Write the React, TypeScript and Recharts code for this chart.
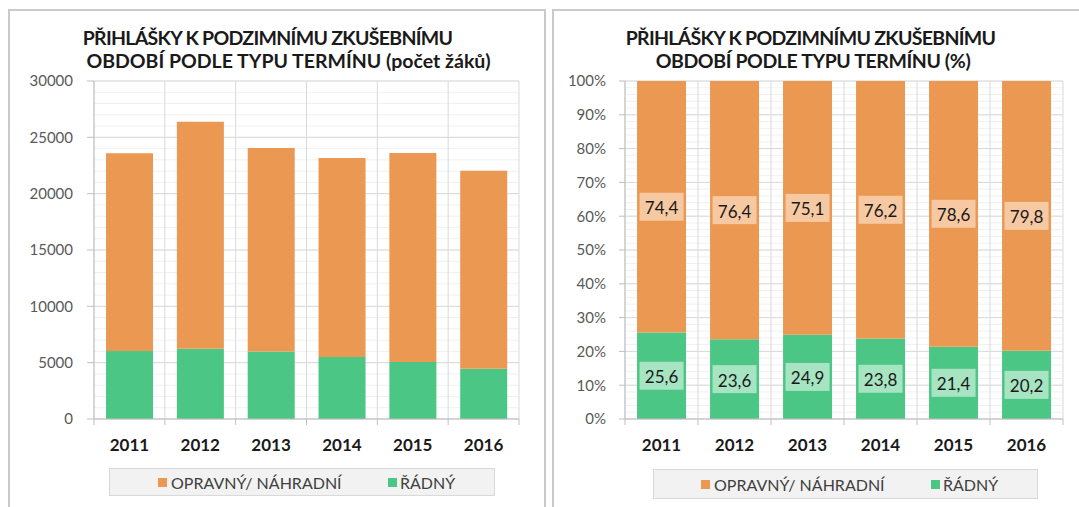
import React from 'react';
import { BarChart, Bar, XAxis, YAxis, CartesianGrid, LabelList, Legend } from 'recharts';

// ---------- DATA ----------
const years = ['2011', '2012', '2013', '2014', '2015', '2016'];
const radnyCount = [6040, 6230, 5990, 5510, 5050, 4450];
const opravnyCount = [17540, 20160, 18060, 17660, 18550, 17590];
const radnyPct = [25.6, 23.6, 24.9, 23.8, 21.4, 20.2];
const opravnyPct = [74.4, 76.4, 75.1, 76.2, 78.6, 79.8];
const countTicks = [0, 5000, 10000, 15000, 20000, 25000, 30000];
const pctTicks = [0, 10, 20, 30, 40, 50, 60, 70, 80, 90, 100];
const seriesOpravny = 'OPRAVNÝ/ NÁHRADNÍ';
const seriesRadny = 'ŘÁDNÝ';
const titleLeft = ['PŘIHLÁŠKY K PODZIMNÍMU ZKUŠEBNÍMU', 'OBDOBÍ PODLE TYPU TERMÍNU (počet žáků)'];
const titleRight = ['PŘIHLÁŠKY K PODZIMNÍMU ZKUŠEBNÍMU', 'OBDOBÍ PODLE TYPU TERMÍNU (%)'];

const countData = years.map((y, i) => ({ year: y, radny: radnyCount[i], opravny: opravnyCount[i] }));
const pctData = years.map((y, i) => ({ year: y, radny: radnyPct[i], opravny: opravnyPct[i] }));

// ---------- STYLE ----------
const ORANGE = '#EB9853';
const GREEN = '#4CC685';
const ORANGE_BOX = '#F6C9A2';
const GREEN_BOX = '#A7E4C2';
const MAJOR = '#D9D9D9';
const MINOR = '#F0F0F0';
const AXIS = '#BFBFBF';
const FONT = "Lato, 'Open Sans', sans-serif";

const CH_H = 497;
const PLOT_TOP = 71;
const PLOT_BOTTOM = 409; // chart coords

const makeXTick = (band: number) => (props: any) => {
  const { x, payload, index } = props;
  return (
    <g>
      <line x1={x - band / 2} x2={x - band / 2} y1={PLOT_BOTTOM} y2={PLOT_BOTTOM + 6} stroke={AXIS} />
      {index === years.length - 1 && (
        <line x1={x + band / 2} x2={x + band / 2} y1={PLOT_BOTTOM} y2={PLOT_BOTTOM + 6} stroke={AXIS} />
      )}
      <text x={x} y={PLOT_BOTTOM + 32} textAnchor="middle" fontWeight="bold" fontSize={17} fill="#1a1a1a">
        {payload.value}
      </text>
    </g>
  );
};

const makeLabel = (boxFill: string) => (props: any) => {
  const { x, y, width, height, value } = props;
  const cx = Number(x) + Number(width) / 2;
  const cy = Number(y) + Number(height) / 2;
  const text = Number(value).toFixed(1).replace('.', ',');
  return (
    <g>
      <rect x={cx - 22} y={cy - 14} width={44} height={28} fill={boxFill} />
      <text x={cx} y={cy + 1} textAnchor="middle" dominantBaseline="central" fontSize={17} fill="#1a1a1a">
        {text}
      </text>
    </g>
  );
};

const LegendBox = (p: { sq1: number; sq2: number; w: number; h: number }) => (
  <div
    style={{
      position: 'relative',
      width: p.w,
      height: p.h,
      boxSizing: 'border-box',
      background: '#F2F2F2',
      border: '1px solid #D9D9D9',
      fontFamily: FONT,
      fontSize: 16,
      color: '#404040',
    }}
  >
    <div style={{ position: 'absolute', left: p.sq1, top: 0, height: p.h - 2, display: 'flex', alignItems: 'center' }}>
      <span style={{ display: 'inline-block', width: 9, height: 9, background: ORANGE, marginRight: 4 }} />
      <span style={{ whiteSpace: 'nowrap' }}>{seriesOpravny}</span>
    </div>
    <div style={{ position: 'absolute', left: p.sq2, top: 0, height: p.h - 2, display: 'flex', alignItems: 'center' }}>
      <span style={{ display: 'inline-block', width: 9, height: 9, background: GREEN, marginRight: 3 }} />
      <span style={{ whiteSpace: 'nowrap' }}>{seriesRadny}</span>
    </div>
  </div>
);

// Two-line title; line 1 is shifted left by a trailing spacer (Excel-like)
const Title = (p: { lines: string[]; c: number; shift: number; ls1: number; ls2: number }) => (
  <div
    style={{
      position: 'absolute',
      left: p.c - 300,
      top: 25.9,
      width: 600,
      lineHeight: '23.5px',
      textAlign: 'center',
      fontWeight: 'bold',
      fontSize: 19.5,
      color: '#1a1a1a',
      whiteSpace: 'nowrap',
    }}
  >
    <span style={{ letterSpacing: `${p.ls1}px` }}>{p.lines[0]}</span>
    <span style={{ display: 'inline-block', width: p.shift }} />
    <br />
    <span style={{ letterSpacing: `${p.ls2}px` }}>{p.lines[1]}</span>
  </div>
);

export default function App() {
  const leftW = 538;
  const leftMargin = { top: PLOT_TOP, right: 27, bottom: CH_H - PLOT_BOTTOM - 30, left: 26 };
  const leftPlotW = leftW - leftMargin.left - 60 - leftMargin.right;
  const rightW = 527;
  const rightMargin = { top: PLOT_TOP, right: 16, bottom: CH_H - PLOT_BOTTOM - 30, left: 18 };
  const rightPlotW = rightW - rightMargin.left - 55 - rightMargin.right;

  const vGen = (n: number) => ({ offset }: any) =>
    Array.from({ length: n + 1 }, (_, i) => offset.left + (offset.width * i) / n);
  const hGen = (n: number) => ({ offset }: any) =>
    Array.from({ length: n + 1 }, (_, i) => offset.top + (offset.height * i) / n);

  return (
    <div style={{ position: 'absolute', left: 0, top: 0, width: 1079, height: 507, overflow: 'hidden', background: '#fff', fontFamily: FONT }}>
      {/* panels */}
      <div style={{ position: 'absolute', left: 8, top: 9, width: 538, height: 520, boxSizing: 'border-box', border: '2px solid #CACACA' }} />
      <div style={{ position: 'absolute', left: 552, top: 9, width: 540, height: 520, boxSizing: 'border-box', border: '2px solid #CACACA' }} />

      <Title lines={titleLeft} c={288.5} shift={42} ls1={-0.7} ls2={0} />
      <Title lines={titleRight} c={813} shift={5} ls1={-0.7} ls2={-0.4} />

      {/* left chart */}
      <div style={{ position: 'absolute', left: 8, top: 10 }}>
        <BarChart width={leftW} height={CH_H} data={countData} margin={leftMargin} barCategoryGap="17%">
          <CartesianGrid horizontal vertical={false} stroke={MINOR} horizontalCoordinatesGenerator={hGen(30)} />
          <CartesianGrid horizontal stroke={MAJOR} verticalCoordinatesGenerator={vGen(6)} />
          <YAxis
            width={60}
            domain={[0, 30000]}
            ticks={countTicks}
            interval={0}
            tickSize={7}
            tickMargin={14}
            tick={{ fill: '#595959', fontSize: 15 }}
            axisLine={{ stroke: AXIS }}
            tickLine={{ stroke: AXIS }}
          />
          <XAxis
            dataKey="year"
            height={30}
            interval={0}
            tickLine={false}
            axisLine={{ stroke: AXIS }}
            tick={makeXTick(leftPlotW / years.length)}
          />
          <Bar dataKey="radny" name={seriesRadny} stackId="a" fill={GREEN} isAnimationActive={false} />
          <Bar dataKey="opravny" name={seriesOpravny} stackId="a" fill={ORANGE} isAnimationActive={false} />
          <Legend
            verticalAlign="middle"
            align="center"
            layout="horizontal"
            wrapperStyle={{ left: 101, top: 458, width: 386, height: 28 }}
            content={() => <LegendBox w={386} h={28} sq1={48} sq2={278} />}
          />
        </BarChart>
      </div>

      {/* right chart */}
      <div style={{ position: 'absolute', left: 552, top: 10 }}>
        <BarChart width={rightW} height={CH_H} data={pctData} margin={rightMargin} barCategoryGap="16.5%">
          <CartesianGrid horizontal vertical={false} stroke={MINOR} horizontalCoordinatesGenerator={hGen(50)} />
          <CartesianGrid horizontal stroke={MAJOR} verticalCoordinatesGenerator={vGen(6)} />
          <YAxis
            width={55}
            domain={[0, 100]}
            ticks={pctTicks}
            interval={0}
            tickSize={6}
            tickMargin={13}
            tickFormatter={(v: number) => `${v}%`}
            tick={{ fill: '#595959', fontSize: 15 }}
            axisLine={{ stroke: AXIS }}
            tickLine={{ stroke: AXIS }}
          />
          <XAxis
            dataKey="year"
            height={30}
            interval={0}
            tickLine={false}
            axisLine={{ stroke: AXIS }}
            tick={makeXTick(rightPlotW / years.length)}
          />
          <Bar dataKey="radny" name={seriesRadny} stackId="a" fill={GREEN} isAnimationActive={false}>
            <LabelList dataKey="radny" content={makeLabel(GREEN_BOX)} />
          </Bar>
          <Bar dataKey="opravny" name={seriesOpravny} stackId="a" fill={ORANGE} isAnimationActive={false}>
            <LabelList dataKey="opravny" content={makeLabel(ORANGE_BOX)} />
          </Bar>
          <Legend
            verticalAlign="middle"
            align="center"
            layout="horizontal"
            wrapperStyle={{ left: 101, top: 459, width: 385, height: 30 }}
            content={() => <LegendBox w={385} h={30} sq1={47} sq2={277} />}
          />
        </BarChart>
      </div>
    </div>
  );
}
